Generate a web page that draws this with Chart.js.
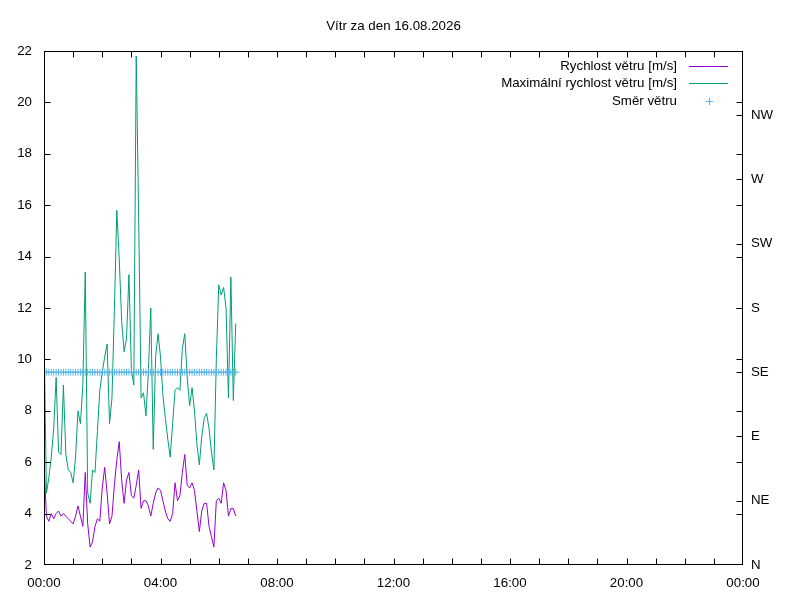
<!DOCTYPE html>
<html>
<head>
<meta charset="utf-8">
<script src="https://cdn.jsdelivr.net/npm/chart.js@4.4.1/dist/chart.umd.min.js"></script>
<style>
html,body{margin:0;padding:0;background:#fff;}
canvas{display:block;}
</style>
</head>
<body>
<canvas id="c" width="800" height="600"></canvas>
<script>
// ---- data ----
const titleText = 'Vítr za den 16.08.2026';
const seriesLabels = ['Rychlost větru [m/s]', 'Maximální rychlost větru [m/s]', 'Směr větru'];
const seriesColors = ['#9400d3', '#009e73', '#56b4e9'];

// minutes since midnight
const times = [0,5,10,15,20,25,30,35,40,45,50,55,60,65,70,75,80,85,90,95,
  100,105,110,115,120,125,130,135,140,145,150,155,160,165,170,175,180,185,190,195,
  200,205,210,215,220,225,230,235,240,245,250,255,260,265,270,275,280,285,290,295,
  300,305,310,315,320,325,330,335,340,345,350,355,360,365,370,375,380,385,390,395];

const speed = [6.0,3.9,3.7,4.0,3.8,4.0,4.1,3.9,4.0,3.9,3.8,3.7,3.6,3.9,4.3,3.9,3.5,5.6,3.6,2.7,
  2.9,3.5,3.8,3.7,5.0,5.8,4.8,3.6,3.9,5.1,6.1,6.8,5.3,4.4,5.3,5.6,4.7,4.6,5.1,5.7,
  4.2,4.5,4.5,4.3,3.9,4.4,4.8,5.0,4.9,4.5,4.1,3.8,3.7,4.0,5.2,4.5,4.7,5.6,6.3,5.1,
  5.0,5.2,4.9,4.1,3.3,4.1,4.4,4.4,3.5,3.1,2.7,4.5,4.6,4.4,5.2,4.9,3.9,4.2,4.2,3.9];

const gust = [11.1,4.8,5.4,6.2,7.3,9.3,6.4,6.3,9.0,6.3,5.7,5.6,5.2,6.2,8.0,7.5,9.0,13.4,4.8,4.4,
  5.7,5.6,7.2,8.8,9.5,10.1,10.6,7.5,8.5,11.9,15.8,13.9,11.5,10.3,10.8,13.3,9.6,9.0,21.8,15.5,
  8.5,8.7,7.8,9.5,12.0,6.5,10.1,11.0,10.1,8.6,7.7,6.9,6.2,7.5,8.8,8.9,8.8,10.4,11.0,9.3,
  8.2,8.9,8.0,6.7,5.9,7.0,7.7,7.9,7.3,6.4,5.7,10.0,12.9,12.5,12.8,12.0,8.5,13.2,8.4,11.4];

// degrees
const direction = [135,135,135,135,135,135,135,135,135,135,135,135,135,135,135,135,135,135,135,135,
  135,135,135,135,135,135,135,135,135,135,135,135,135,135,135,135,135,135,135,135,
  135,135,135,135,135,135,135,135,135,135,135,135,135,135,135,135,135,135,135,135,
  135,135,135,135,135,135,135,135,135,135,135,135,135,135,135,135,135,135,135,135];

const timeLabels = ['00:00','04:00','08:00','12:00','16:00','20:00','00:00'];
const dirLabels = ['N','NE','E','SE','S','SW','W','NW',''];

// ---- chart ----
const FONT = "'Liberation Sans', Arial, sans-serif";
const FS = 13.3;
Chart.defaults.font.family = FONT;
Chart.defaults.font.size = FS;
Chart.defaults.color = '#000';

function pts(vals){ return times.map((t,i)=>({x:t, y:vals[i]})); }

const framePlugin = {
  id: 'frame',
  afterDatasetsDraw(chart){
    const {ctx, chartArea:a, scales} = chart;
    const L = Math.round(a.left)+0.5, R = Math.round(a.right)-0.5;
    const T = Math.round(a.top)+0.5, B = Math.round(a.bottom)-0.5;
    const tl = 6;
    ctx.save();
    ctx.strokeStyle = '#000';
    ctx.lineWidth = 1;
    ctx.beginPath();
    for (let m = 60; m < 1440; m += 60){
      const px = Math.round(scales.x.getPixelForValue(m))+0.5;
      ctx.moveTo(px, B); ctx.lineTo(px, B - tl);
      ctx.moveTo(px, T); ctx.lineTo(px, T + tl);
    }
    for (let v = 4; v < 22; v += 2){
      const py = Math.round(scales.y.getPixelForValue(v))+0.5;
      ctx.moveTo(L, py); ctx.lineTo(L + tl, py);
      ctx.moveTo(R, py); ctx.lineTo(R - tl, py);
    }
    for (let d = 45; d < 360; d += 45){
      const py = Math.round(scales.y2.getPixelForValue(d))+0.5;
      ctx.moveTo(R, py); ctx.lineTo(R - tl, py);
    }
    ctx.stroke();
    ctx.strokeRect(L, T, R - L, B - T);

    // gnuplot-style key, top right inside the plot
    ctx.font = FS + 'px ' + FONT;
    ctx.fillStyle = '#000';
    ctx.textAlign = 'right';
    ctx.textBaseline = 'middle';
    const rows = [a.top + 15, a.top + 32.5, a.top + 50];
    const textX = a.right - 66;
    const s0 = a.right - 54, s1 = a.right - 15;
    chart.data.datasets.forEach((ds, i) => {
      const y = rows[i];
      ctx.fillText(ds.label, textX, y);
      ctx.strokeStyle = ds.borderColor;
      ctx.beginPath();
      if (i < 2){
        ctx.moveTo(s0, Math.round(y)+0.5); ctx.lineTo(s1, Math.round(y)+0.5);
      } else {
        const cx = Math.round((s0 + s1)/2)+0.5, cy = Math.round(y)+0.5;
        ctx.moveTo(cx - 3.5, cy); ctx.lineTo(cx + 3.5, cy);
        ctx.moveTo(cx, cy - 3.5); ctx.lineTo(cx, cy + 3.5);
      }
      ctx.stroke();
    });
    ctx.restore();
  }
};

new Chart(document.getElementById('c'), {
  type: 'line',
  data: {
    datasets: [
      { label: seriesLabels[0], data: pts(speed), borderColor: seriesColors[0], backgroundColor: seriesColors[0],
        borderWidth: 1, pointRadius: 0, tension: 0, yAxisID: 'y', order: 2 },
      { label: seriesLabels[1], data: pts(gust), borderColor: seriesColors[1], backgroundColor: seriesColors[1],
        borderWidth: 1, pointRadius: 0, tension: 0, yAxisID: 'y', order: 1 },
      { label: seriesLabels[2], data: pts(direction), borderColor: seriesColors[2], backgroundColor: seriesColors[2],
        showLine: false, pointStyle: 'cross', pointRadius: 3.5, pointBorderWidth: 1, yAxisID: 'y2', order: 0 }
    ]
  },
  options: {
    responsive: false,
    animation: false,
    devicePixelRatio: 1,
    layout: { padding: 0 },
    plugins: {
      legend: { display: false },
      tooltip: { enabled: false },
      title: {
        display: true, text: titleText, fullSize: false, color: '#000',
        font: { size: FS, weight: 'normal', family: FONT },
        padding: { top: 18, bottom: 17 }
      }
    },
    scales: {
      x: {
        type: 'linear', min: 0, max: 1440,
        grid: { display: false, drawTicks: false },
        border: { display: false },
        ticks: { stepSize: 240, padding: 10, maxRotation: 0, autoSkip: false,
          callback: (v) => timeLabels[Math.round(v/240)] },
        afterFit: (s) => { s.height = 35; }
      },
      y: {
        position: 'left', min: 2, max: 22,
        grid: { display: false, drawTicks: false },
        border: { display: false },
        ticks: { stepSize: 2, padding: 12 },
        afterFit: (s) => { s.width = 44; }
      },
      y2: {
        position: 'right', min: 0, max: 360,
        grid: { display: false, drawTicks: false },
        border: { display: false },
        ticks: { stepSize: 45, padding: 8, autoSkip: false,
          callback: (v) => dirLabels[Math.round(v/45)] },
        afterFit: (s) => { s.width = 57; }
      }
    }
  },
  plugins: [framePlugin]
});
</script>
</body>
</html>
